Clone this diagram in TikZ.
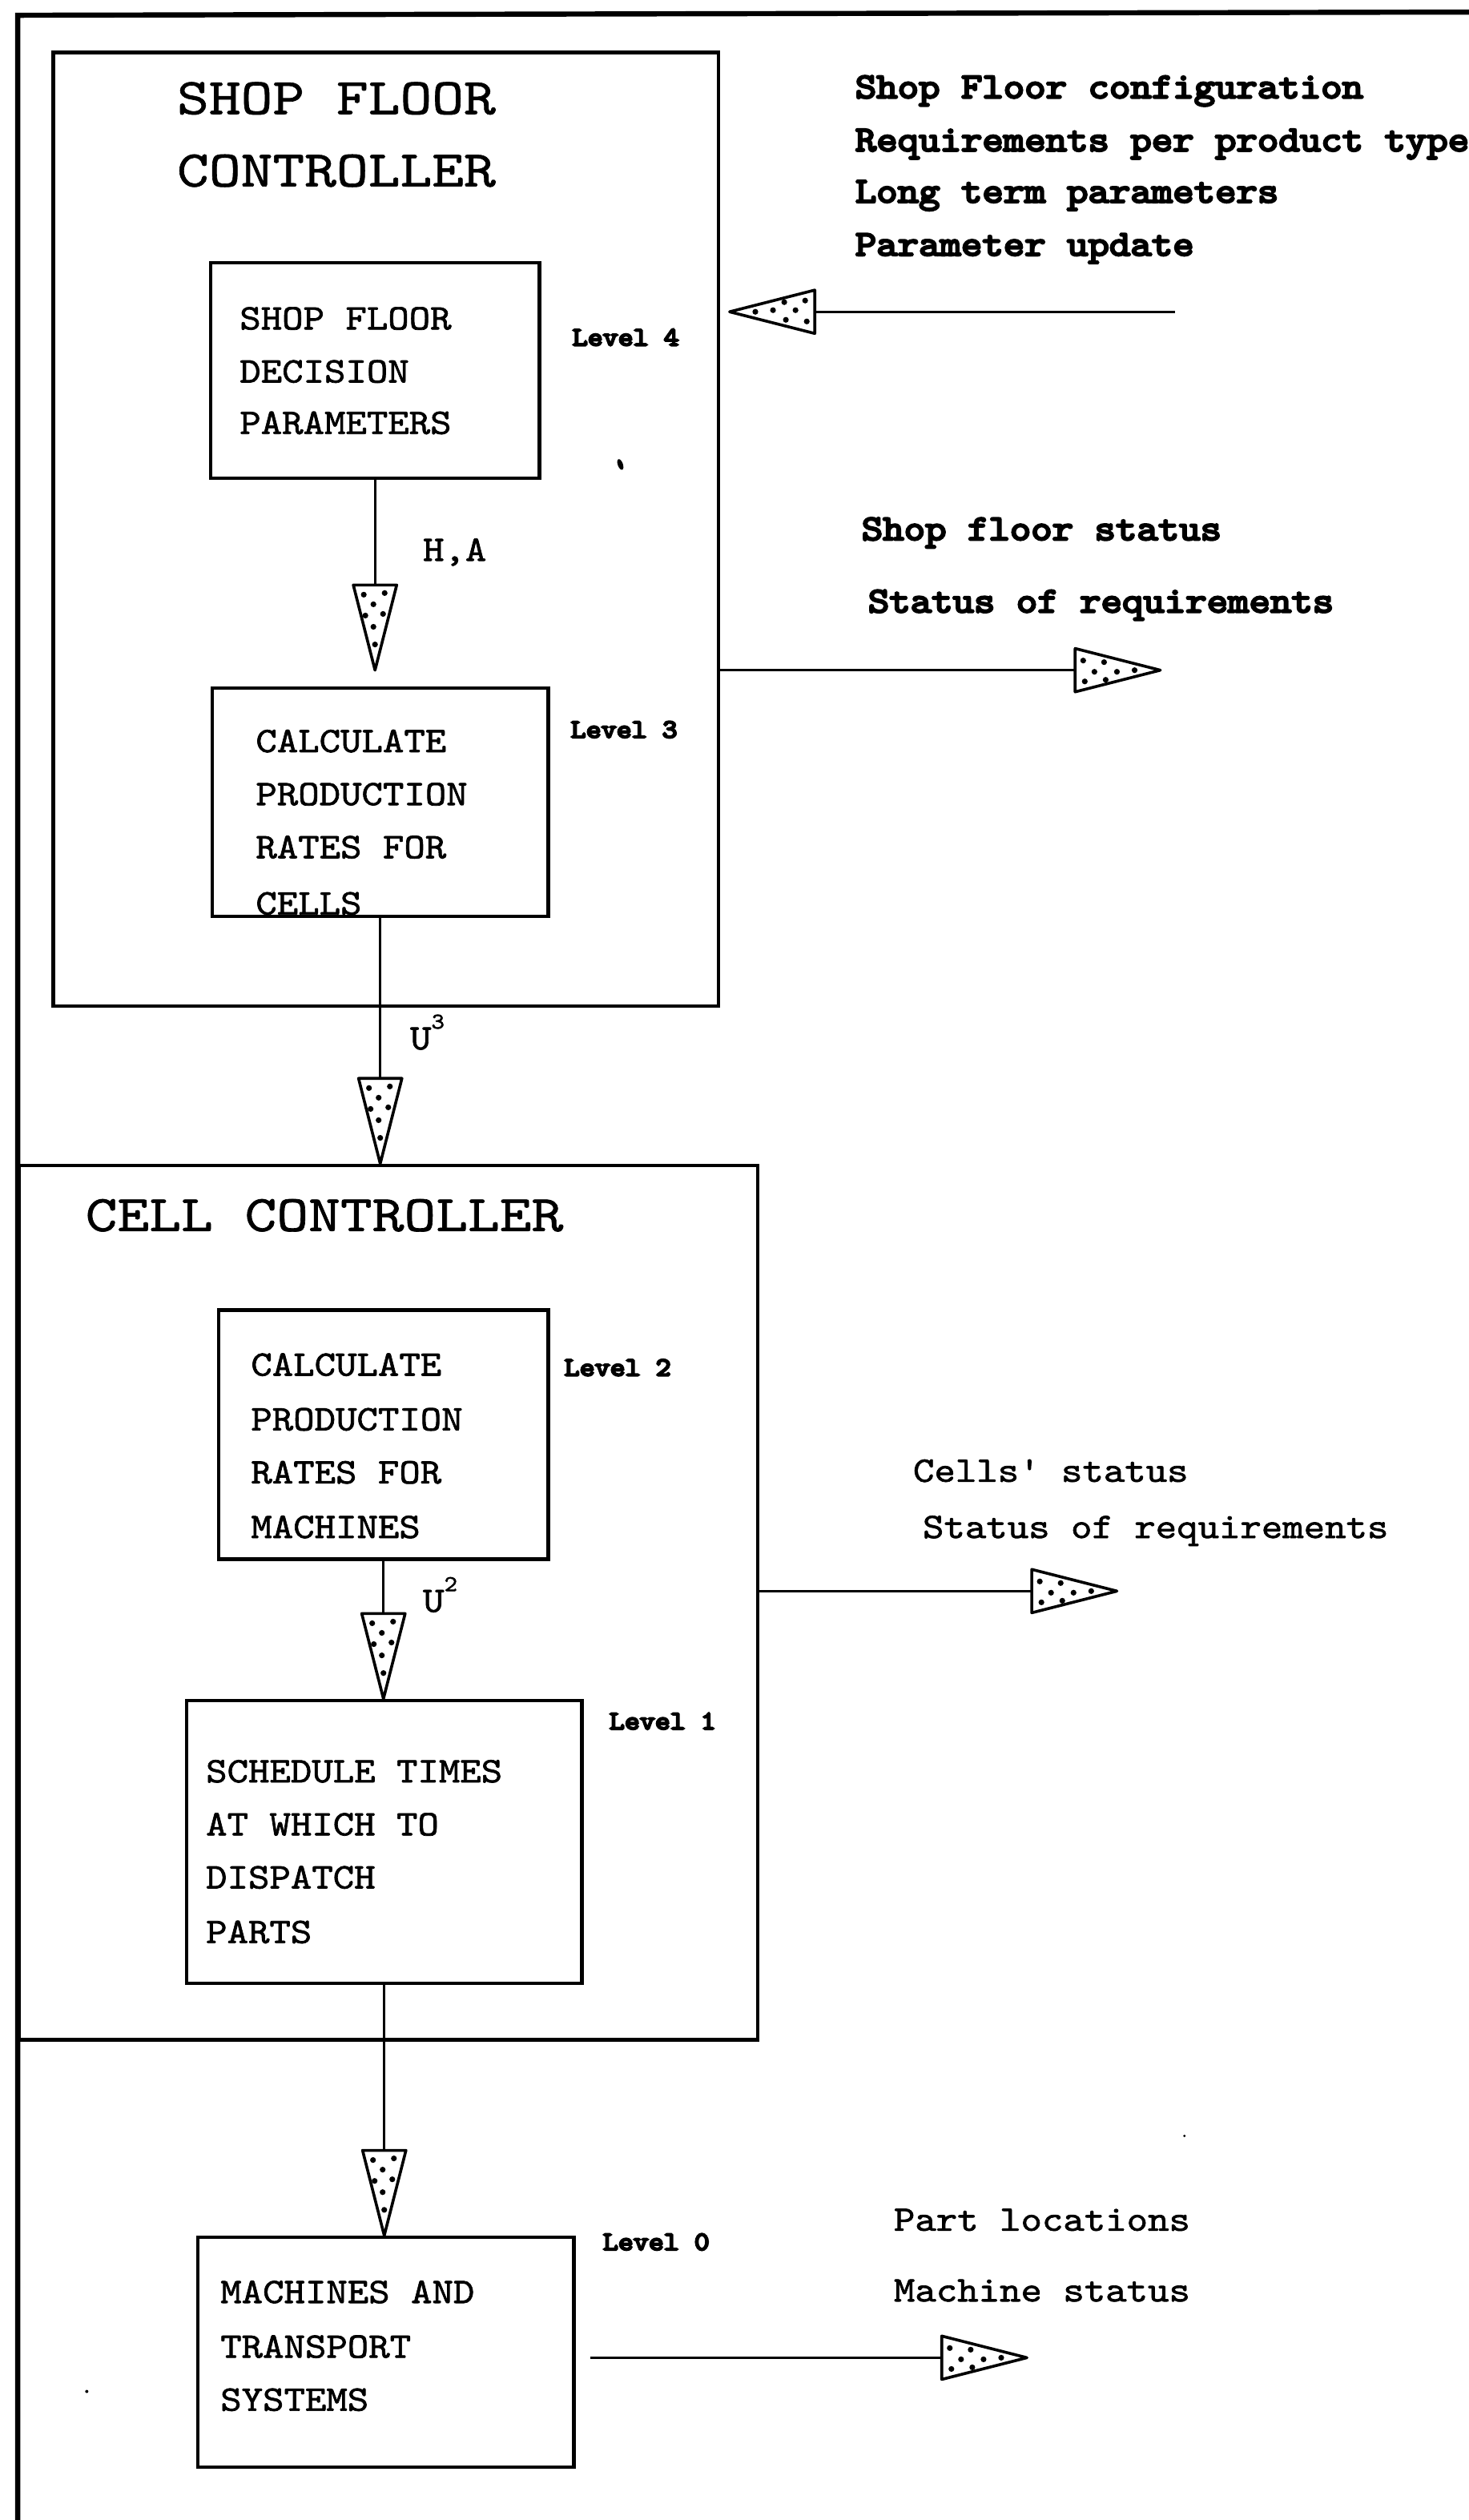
\documentclass[tikz,border=0pt]{standalone}
\usepackage{fontspec}
\newfontfamily\twtext{lmmono10-regular.otf}[FakeStretch=1.12, FakeBold=1.5, BoldFont=lmmono10-regular.otf, BoldFeatures={FakeBold=5.5}]
\newfontfamily\twtitle{lmmono10-regular.otf}[FakeStretch=1.18, FakeBold=1]
\newfontfamily\twlevel{lmmono10-regular.otf}[FakeStretch=1.1, FakeBold=7]
\usetikzlibrary{calc}

\tikzset{
  % stippled triangular arrow head, tip at the origin, pointing along +x
  stiphead/.pic={
    \draw[line width=1.8pt, fill=white, line join=round]
      (0,0) -- (-53,13.5) -- (-53,-13.5) -- cycle;
    \foreach \a/\b in {-48/-6,-47/7,-41/1,-35/-5,-34/6,-27/1,-16/0}
      \fill (\a,\b) circle (1.8pt);
  },
  conn/.style={line width=1.5pt},
  box/.style={draw, line width=2.2pt, inner sep=0pt, anchor=north west},
  title/.style={anchor=base west, inner sep=0pt, font=\twtitle\fontsize{32}{40}\selectfont},
  txt/.style={anchor=base west, inner sep=0pt, font=\twtext\fontsize{22.4}{26}\selectfont},
  btxt/.style={anchor=base west, inner sep=0pt, font=\twtext\bfseries\fontsize{22.4}{26}\selectfont},
  lvl/.style={anchor=base west, inner sep=0pt, font=\twlevel\fontsize{16.4}{18}\selectfont},
}
\newcommand{\supfig}[1]{\raisebox{13pt}{\fontsize{14}{14}\selectfont #1}}

\begin{document}
\begin{tikzpicture}[x=1pt, y=-1pt]
\useasboundingbox (0,0) rectangle (914,1568);

% outer frame
\draw[line width=3.2pt] (914,7.5) -- (11,9.5) -- (11,1568);

% controllers
\node[box, minimum width=414pt, minimum height=593.5pt] (sfc) at (32,31.5) {};
\node[box, minimum width=459.5pt, minimum height=544pt] (cell) at (11,724) {};

\node[title] (sfcA) at (110,71) {SHOP FLOOR};
\node[title] (sfcB) at (110,116) {CONTROLLER};
\node[title] (cellT) at (53,766) {CELL CONTROLLER};

% decision boxes
\node[box, minimum width=204.5pt, minimum height=134pt] (b1) at (130,162.5) {};
\node[box, minimum width=209pt, minimum height=142pt] (b2) at (131,427) {};
\node[box, minimum width=205pt, minimum height=155pt] (b3) at (135,814) {};
\node[box, minimum width=246pt, minimum height=176pt] (b4) at (115,1057) {};
\node[box, minimum width=234pt, minimum height=143pt] (b5) at (122,1391) {};

\node[txt] (b1a) at (149,205) {SHOP FLOOR};
\node[txt] (b1b) at (149,238) {DECISION};
\node[txt] (b1c) at (149,270) {PARAMETERS};

\node[txt] (b2a) at (159,468) {CALCULATE};
\node[txt] (b2b) at (159,501) {PRODUCTION};
\node[txt] (b2c) at (159,534) {RATES FOR};
\node[txt] (b2d) at (159,569) {CELLS};

\node[txt] (b3a) at (156,856) {CALCULATE};
\node[txt] (b3b) at (156,890) {PRODUCTION};
\node[txt] (b3c) at (156,923) {RATES FOR};
\node[txt] (b3d) at (156,957) {MACHINES};

\node[txt] (b4a) at (128,1109) {SCHEDULE TIMES};
\node[txt] (b4b) at (128,1142) {AT WHICH TO};
\node[txt] (b4c) at (128,1175) {DISPATCH};
\node[txt] (b4d) at (128,1209) {PARTS};

\node[txt] (b5a) at (137,1433) {MACHINES AND};
\node[txt] (b5b) at (137,1467) {TRANSPORT};
\node[txt] (b5c) at (137,1500) {SYSTEMS};

% level labels
\node[lvl] (l4) at (356,215) {Level 4};
\node[lvl] (l3) at (355,459) {Level 3};
\node[lvl] (l2) at (351,856) {Level 2};
\node[lvl] (l1) at (379,1076) {Level 1};
\node[lvl] (l0) at (375,1400) {Level 0};

% vertical flow between the levels
\coordinate (haT) at (234,417);
\draw[conn] (b1.south) -- (b1.south |- haT);
\draw[conn] (b2.south) -- (b2.south |- cell.north);
\draw[conn] (b3.south) -- (b3.south |- b4.north);
\draw[conn] (b4.south) -- (b4.south |- b5.north);
\pic[rotate=-90] at (b1.south |- haT) {stiphead};
\pic[rotate=-90] at (b2.south |- cell.north) {stiphead};
\pic[rotate=-90] at (b3.south |- b4.north) {stiphead};
\pic[rotate=-90] at (b4.south |- b5.north) {stiphead};

\node[txt] (ha) at (263,349) {H,A};
\node[txt] (u3) at (255,653) {U\supfig{3}};
\node[txt] (u2) at (263,1003) {U\supfig{2}};

% inputs to the shop floor controller
\node[btxt] (r1) at (532,61) {Shop Floor configuration};
\node[btxt] (r2) at (532,94) {Requirements per product type};
\node[btxt] (r3) at (532,126) {Long term parameters};
\node[btxt] (r4) at (532,159) {Parameter update};
\coordinate (inS) at (731,194);
\coordinate (inT) at (454,194);
\draw[conn] (inS) -- (inT);
\pic[rotate=180] at (inT) {stiphead};

% status outputs
\node[btxt] (s1) at (536,336) {Shop floor status};
\node[btxt] (s2) at (540,381) {Status of requirements};
\coordinate (o1) at (722,417);
\draw[conn] (sfc.east |- o1) -- (o1);
\pic at (o1) {stiphead};

\node[txt] (c1) at (568,922) {Cells' status};
\node[txt] (c2) at (574,957) {Status of requirements};
\coordinate (o2) at (695,990);
\draw[conn] (cell.east |- o2) -- (o2);
\pic at (o2) {stiphead};

\node[txt] (p1) at (556,1388) {Part locations};
\node[txt] (p2) at (556,1432) {Machine status};
\coordinate (o3) at (639,1467);
\draw[conn] ($(b5.east |- o3)+(9,0)$) -- (o3);
\pic at (o3) {stiphead};

% specks
\fill[rotate around={20:(386,289)}] (386,289) ellipse (1.6pt and 3.5pt);
\fill (737,1329) circle (0.8pt);
\fill (54,1488) circle (1pt);
\end{tikzpicture}
\end{document}
